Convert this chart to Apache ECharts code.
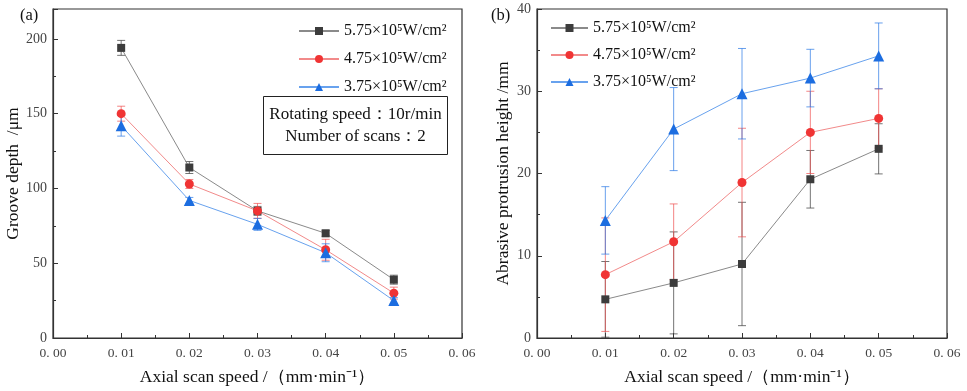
<!DOCTYPE html>
<html>
<head>
<meta charset="utf-8">
<script src="https://cdn.jsdelivr.net/npm/echarts@6/dist/echarts.min.js"></script>
<style>html,body{margin:0;padding:0;background:#fff}#c{width:967px;height:391px}</style>
</head>
<body>
<div id="c"></div>
<script>
// ---- data ----
var speeds = [0.01, 0.02, 0.03, 0.04, 0.05];
var seriesNames = ['5.75×10⁵W/cm²', '4.75×10⁵W/cm²', '3.75×10⁵W/cm²'];
var xTicks = [0, 0.01, 0.02, 0.03, 0.04, 0.05, 0.06];

// (a) groove depth, μm
var depth575 = [194, 114, 85, 70, 39];
var depth575Err = [5, 4, 3, 2, 3];
var depth475 = [150, 103, 85, 59, 30];
var depth475Err = [5, 3, 5, 7, 4];
var depth375 = [142, 92, 76, 57, 25];
var depth375Err = [7, 2, 4, 6, 2];

// (b) abrasive protrusion height, mm
var height575 = [4.7, 6.7, 9.0, 19.3, 23.0];
var height575Err = [4.6, 6.2, 7.5, 3.5, 3.05];
var height475 = [7.7, 11.7, 18.9, 25.0, 26.7];
var height475Err = [6.9, 4.6, 6.6, 5.0, 3.6];
var height375 = [14.3, 25.4, 29.7, 31.6, 34.3];
var height375Err = [4.1, 5.05, 5.5, 3.5, 4.0];

var annotationLines = ['Rotating speed：10r/min', 'Number of scans：2'];

// ---- styles ----
var markerColors = ['#3c3c3c', '#f03434', '#1c6de0'];
var lineColors = ['#8a8a8a', '#f28a8a', '#68a2ee'];
var errColors = ['rgba(70,70,70,0.75)', 'rgba(240,80,80,0.7)', 'rgba(40,120,230,0.7)'];
var symbols = ['rect', 'circle', 'triangle'];
var symbolSizes = [8, 9, 11];
var FONT = '"Liberation Serif", "Times New Roman", serif';

function pairs(xs, ys) { return xs.map(function (x, i) { return [x, ys[i]]; }); }
function triples(xs, ys, es) { return xs.map(function (x, i) { return [x, ys[i], es[i]]; }); }

function errSeries(idx, data, k) {
  return {
    type: 'custom', xAxisIndex: idx, yAxisIndex: idx, z: 1, silent: true,
    data: data,
    renderItem: function (params, api) {
      var x = api.value(0), y = api.value(1), e = api.value(2);
      var hi = api.coord([x, y + e]);
      var lo = api.coord([x, Math.max(0, y - e)]);
      var w = 4;
      var st = { stroke: errColors[k], lineWidth: 1 };
      return {
        type: 'group',
        children: [
          { type: 'line', shape: { x1: hi[0], y1: hi[1], x2: lo[0], y2: lo[1] }, style: st },
          { type: 'line', shape: { x1: hi[0] - w, y1: hi[1], x2: hi[0] + w, y2: hi[1] }, style: st },
          { type: 'line', shape: { x1: lo[0] - w, y1: lo[1], x2: lo[0] + w, y2: lo[1] }, style: st }
        ]
      };
    }
  };
}

function lineSeries(idx, k, data) {
  return {
    name: seriesNames[k], type: 'line', xAxisIndex: idx, yAxisIndex: idx, z: 3,
    data: data, symbol: symbols[k], symbolSize: symbolSizes[k],
    itemStyle: { color: markerColors[k] },
    lineStyle: { color: lineColors[k], width: 1 },
    emphasis: { disabled: true }, animation: false
  };
}

function xAxis(idx) {
  return {
    type: 'value', gridIndex: idx, min: 0, max: 0.06, interval: 0.01,
    name: 'Axial scan speed /（mm·min⁻¹）', nameLocation: 'middle', nameGap: 30,
    nameTextStyle: { fontFamily: FONT, fontSize: 17.5, color: '#111' },
    axisLine: { lineStyle: { color: '#333', width: 1.2 } },
    axisTick: { inside: true, length: 5, lineStyle: { color: '#333' } },
    minorTick: { show: true, splitNumber: 2, length: 3, lineStyle: { color: '#333' } },
    splitLine: { show: false },
    axisLabel: {
      fontFamily: FONT, fontSize: 13.5, color: '#444', margin: 8,
      formatter: function (v) { return v.toFixed(2).replace('.', '. '); }
    }
  };
}

function yAxis(idx, max, interval, name, gap) {
  return {
    type: 'value', gridIndex: idx, min: 0, max: max, interval: interval,
    name: name, nameLocation: 'middle', nameGap: gap,
    nameTextStyle: { fontFamily: FONT, fontSize: 17.5, color: '#111' },
    axisLine: { lineStyle: { color: '#333', width: 1.2 } },
    axisTick: { inside: true, length: 5, lineStyle: { color: '#333' } },
    minorTick: { show: true, splitNumber: 2, length: 3, lineStyle: { color: '#333' } },
    splitLine: { show: false },
    axisLabel: {
      fontFamily: FONT, fontSize: 14, color: '#444', margin: 6, showMaxLabel: max % interval === 0,
      formatter: function (v) { return (v % interval === 0) ? String(v) : ''; }
    }
  };
}

var option = {
  animation: false,
  backgroundColor: '#fff',
  grid: [
    { left: 53, right: 505, top: 9, bottom: 53, show: true, borderColor: '#333', borderWidth: 1.2 },
    { left: 537, right: 20, top: 9, bottom: 52, show: true, borderColor: '#333', borderWidth: 1.2 }
  ],
  xAxis: [xAxis(0), xAxis(1)],
  yAxis: [
    yAxis(0, 220, 50, 'Groove depth  /μm', 30),
    yAxis(1, 40, 10, 'Abrasive protrusion height /mm', 25)
  ],
  legend: [
    {
      data: seriesNames, orient: 'vertical', left: 298, top: 23, itemGap: 12, padding: 0,
      itemWidth: 40, itemHeight: 10, selectedMode: false,
      textStyle: { fontFamily: FONT, fontSize: 16, color: '#111' }
    },
    {
      data: seriesNames, orient: 'vertical', left: 550, top: 20, itemGap: 11, padding: 0,
      itemWidth: 37, itemHeight: 10, selectedMode: false,
      textStyle: { fontFamily: FONT, fontSize: 16, color: '#111' }
    }
  ],
  graphic: [
    { type: 'text', left: 20, top: 7, style: { text: '(a)', font: '16.5px ' + FONT, fill: '#111' } },
    { type: 'text', left: 491, top: 7, style: { text: '(b)', font: '16.5px ' + FONT, fill: '#111' } },
    {
      type: 'rect', left: 263, top: 96, shape: { width: 184, height: 58 },
      style: { fill: '#fff', stroke: '#222', lineWidth: 1 }, z: 10
    },
    {
      type: 'text', x: 355.5, y: 106, z: 11,
      style: { text: annotationLines[0], font: '17px ' + FONT, fill: '#111', textAlign: 'center' }
    },
    {
      type: 'text', x: 355.5, y: 128, z: 11,
      style: { text: annotationLines[1], font: '17px ' + FONT, fill: '#111', textAlign: 'center' }
    }
  ],
  series: [
    errSeries(0, triples(speeds, depth575, depth575Err), 0),
    errSeries(0, triples(speeds, depth475, depth475Err), 1),
    errSeries(0, triples(speeds, depth375, depth375Err), 2),
    lineSeries(0, 0, pairs(speeds, depth575)),
    lineSeries(0, 1, pairs(speeds, depth475)),
    lineSeries(0, 2, pairs(speeds, depth375)),
    errSeries(1, triples(speeds, height575, height575Err), 0),
    errSeries(1, triples(speeds, height475, height475Err), 1),
    errSeries(1, triples(speeds, height375, height375Err), 2),
    lineSeries(1, 0, pairs(speeds, height575)),
    lineSeries(1, 1, pairs(speeds, height475)),
    lineSeries(1, 2, pairs(speeds, height375))
  ]
};

var chart = echarts.init(document.getElementById('c'), null, { renderer: 'canvas' });
chart.setOption(option);
</script>
</body>
</html>
